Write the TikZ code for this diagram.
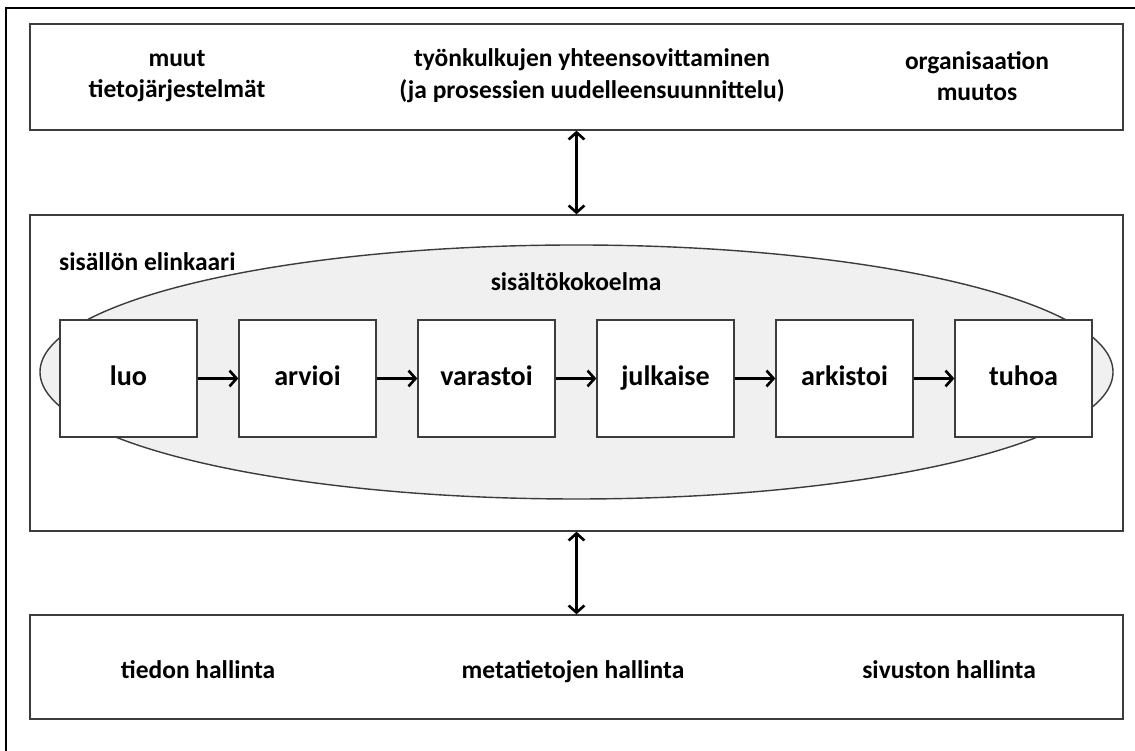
\documentclass[tikz,border=0pt]{standalone}
\usepackage{fontspec}
\setmainfont{Carlito}
\usetikzlibrary{shapes.geometric, arrows.meta}

\definecolor{kehys}{RGB}{60,60,60}
\definecolor{harmaa}{RGB}{240,240,240}

\begin{document}
\begin{tikzpicture}
	% Tyylit
	\tikzstyle{kerros}	=	[rectangle, draw=kehys, line width=0.8pt, minimum width=21.86cm, inner sep=0pt]
	\tikzstyle{vaihe}	=	[rectangle, draw=kehys, line width=0.8pt, fill=white, minimum width=2.74cm, minimum height=2.34cm, text height=1.6ex, text depth=0pt, font=\fontsize{16}{19}\selectfont\bfseries]
	\tikzstyle{teksti}	=	[align=center, font=\fontsize{14.5}{18}\selectfont\bfseries]
	\tikzstyle{hallinta}	=	[teksti, text height=1.6ex, text depth=0pt]
	\tikzstyle{nuoli}	=	[line width=1.5pt, -{Straight Barb[length=4pt, width=9pt]}]

	\useasboundingbox (0,0) rectangle (22.7,15.02);

	% Reunaviivat
	\draw[line width=1.1pt] (0.12,0) -- (0.12,14.86) -- (22.7,14.86);

	% Kerrokset
	\node[kerros, minimum height=2.12cm]	(ylakerros)		at (11.53,13.48)	{};
	\node[kerros, minimum height=6.32cm]	(elinkaari)		at (11.53,7.56)		{};
	\node[kerros, minimum height=2.08cm]	(alakerros)		at (11.53,1.68)		{};

	% Ylakerroksen tekstit
	\node[teksti]	(muut)			at (3.54,13.5)							{muut\\tietojärjestelmät};
	\node[teksti]	(tyonkulut)		[right of=muut, node distance=8.3cm]		{työnkulkujen yhteensovittaminen\\(ja prosessien uudelleensuunnittelu)};
	\node[teksti]	(muutos)		[right of=tyonkulut, node distance=7.7cm]	{organisaation\\muutos};

	% Sisaltokokoelma
	\node[ellipse, draw=kehys, line width=0.8pt, fill=harmaa, minimum width=21.46cm, minimum height=5.08cm, inner sep=0pt] (kokoelma) at (11.53,7.58) {};
	\node[teksti, anchor=west]	(elinkaari_teksti)	at (1.06,9.78)	{sisällön elinkaari};
	\node[teksti]				(kokoelma_teksti)	at (11.52,9.38)	{sisältökokoelma};

	% Vaiheet
	\node[vaihe]	(luo)									at (2.57,7.45)	{luo};
	\node[vaihe]	(arvioi)	[right of=luo,		node distance=3.58cm]	{arvioi};
	\node[vaihe]	(varastoi)	[right of=arvioi,	node distance=3.58cm]	{varastoi};
	\node[vaihe]	(julkaise)	[right of=varastoi,	node distance=3.58cm]	{julkaise};
	\node[vaihe]	(arkistoi)	[right of=julkaise,	node distance=3.58cm]	{arkistoi};
	\node[vaihe]	(tuhoa)		[right of=arkistoi,	node distance=3.58cm]	{tuhoa};

	% Nuolet
	\draw[nuoli] (luo) -- (arvioi);
	\draw[nuoli] (arvioi) -- (varastoi);
	\draw[nuoli] (varastoi) -- (julkaise);
	\draw[nuoli] (julkaise) -- (arkistoi);
	\draw[nuoli] (arkistoi) -- (tuhoa);
	\draw[nuoli, {Straight Barb[length=4pt, width=9pt]}-{Straight Barb[length=4pt, width=9pt]}] (ylakerros) -- (elinkaari);
	\draw[nuoli, {Straight Barb[length=4pt, width=9pt]}-{Straight Barb[length=4pt, width=9pt]}] (elinkaari) -- (alakerros);

	% Alakerroksen tekstit
	\node[hallinta]	(tiedon)		at (3.96,1.58)							{tiedon hallinta};
	\node[hallinta]	(metatiedot)	[right of=tiedon, node distance=7.5cm]		{metatietojen hallinta};
	\node[hallinta]	(sivusto)		[right of=metatiedot, node distance=7.52cm]	{sivuston hallinta};

\end{tikzpicture}
\end{document}
